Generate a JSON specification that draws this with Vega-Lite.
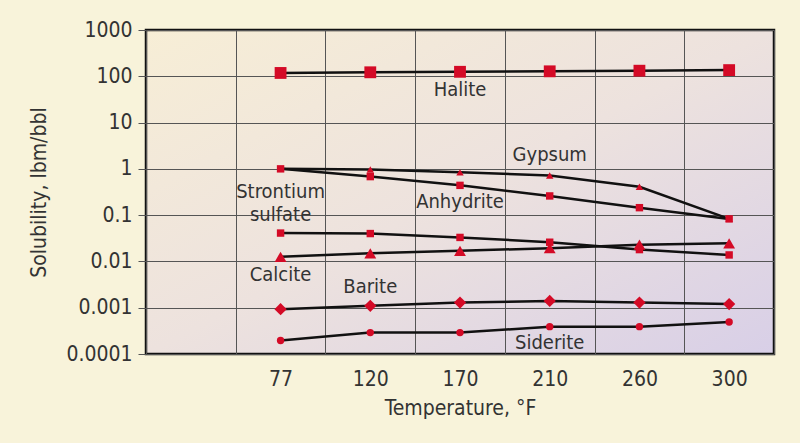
{
  "$schema": "https://vega.github.io/schema/vega-lite/v6.json",
  "width": 628,
  "height": 324,
  "autosize": "none",
  "padding": {"left": 146, "top": 30, "right": 26, "bottom": 89},
  "background": "#f8f3da",
  "view": {
    "fill": {"gradient": "linear", "x1": 0, "y1": 0, "x2": 1, "y2": 1,
      "stops": [{"offset": 0, "color": "#f7eed6"}, {"offset": 0.5, "color": "#ede2de"}, {"offset": 1, "color": "#d8cfe7"}]},
    "stroke": "#111111",
    "strokeWidth": 2.5
  },
  "config": {
    "font": "DejaVu Sans Condensed",
    "axis": {"labelFont": "DejaVu Sans Condensed", "titleFont": "DejaVu Sans Condensed", "labelColor": "#333333", "titleColor": "#333333", "titleFontWeight": "normal", "gridColor": "#555555", "gridOpacity": 1, "gridWidth": 1, "domain": false}
  },
  "datasets": {
    "series": [
      {"mineral": "Halite", "temp": 77, "sol": 118},
      {"mineral": "Halite", "temp": 120, "sol": 122},
      {"mineral": "Halite", "temp": 170, "sol": 125},
      {"mineral": "Halite", "temp": 210, "sol": 128},
      {"mineral": "Halite", "temp": 260, "sol": 132},
      {"mineral": "Halite", "temp": 300, "sol": 136},
      {"mineral": "Gypsum", "temp": 77, "sol": 1.0},
      {"mineral": "Gypsum", "temp": 120, "sol": 0.97},
      {"mineral": "Gypsum", "temp": 170, "sol": 0.84},
      {"mineral": "Gypsum", "temp": 210, "sol": 0.72},
      {"mineral": "Gypsum", "temp": 260, "sol": 0.41},
      {"mineral": "Gypsum", "temp": 300, "sol": 0.083},
      {"mineral": "Anhydrite", "temp": 77, "sol": 1.0},
      {"mineral": "Anhydrite", "temp": 120, "sol": 0.68},
      {"mineral": "Anhydrite", "temp": 170, "sol": 0.44},
      {"mineral": "Anhydrite", "temp": 210, "sol": 0.26},
      {"mineral": "Anhydrite", "temp": 260, "sol": 0.145},
      {"mineral": "Anhydrite", "temp": 300, "sol": 0.083},
      {"mineral": "Strontium sulfate", "temp": 77, "sol": 0.041},
      {"mineral": "Strontium sulfate", "temp": 120, "sol": 0.04},
      {"mineral": "Strontium sulfate", "temp": 170, "sol": 0.033},
      {"mineral": "Strontium sulfate", "temp": 210, "sol": 0.026},
      {"mineral": "Strontium sulfate", "temp": 260, "sol": 0.018},
      {"mineral": "Strontium sulfate", "temp": 300, "sol": 0.0138},
      {"mineral": "Calcite", "temp": 77, "sol": 0.0126},
      {"mineral": "Calcite", "temp": 120, "sol": 0.015},
      {"mineral": "Calcite", "temp": 170, "sol": 0.017},
      {"mineral": "Calcite", "temp": 210, "sol": 0.0193},
      {"mineral": "Calcite", "temp": 260, "sol": 0.023},
      {"mineral": "Calcite", "temp": 300, "sol": 0.0246},
      {"mineral": "Barite", "temp": 77, "sol": 0.00093},
      {"mineral": "Barite", "temp": 120, "sol": 0.0011},
      {"mineral": "Barite", "temp": 170, "sol": 0.00129},
      {"mineral": "Barite", "temp": 210, "sol": 0.0014},
      {"mineral": "Barite", "temp": 260, "sol": 0.00129},
      {"mineral": "Barite", "temp": 300, "sol": 0.0012},
      {"mineral": "Siderite", "temp": 77, "sol": 0.000195},
      {"mineral": "Siderite", "temp": 120, "sol": 0.00029},
      {"mineral": "Siderite", "temp": 170, "sol": 0.00029},
      {"mineral": "Siderite", "temp": 210, "sol": 0.00039},
      {"mineral": "Siderite", "temp": 260, "sol": 0.00039},
      {"mineral": "Siderite", "temp": 300, "sol": 0.00049}
    ],
    "labels": [
      {"text": "Halite", "temp": 170, "sol": 50},
      {"text": "Gypsum", "temp": 210, "sol": 2.0},
      {"text": "Anhydrite", "temp": 170, "sol": 0.193},
      {"text": "Strontium\nsulfate", "temp": 77, "sol": 0.31},
      {"text": "Calcite", "temp": 77, "sol": 0.0051},
      {"text": "Barite", "temp": 120, "sol": 0.0028},
      {"text": "Siderite", "temp": 210, "sol": 0.000174}
    ]
  },
  "encoding": {
    "x": {
      "field": "temp", "type": "ordinal",
      "scale": {"type": "band", "domain": [0, 77, 120, 170, 210, 260, 300], "paddingInner": 0, "paddingOuter": 0},
      "axis": {"title": "Temperature, °F", "labelAngle": 0, "tickBand": "extent", "grid": true, "ticks": false, "labelPadding": 14, "labelFontSize": 21, "titleFontSize": 21, "titlePadding": 8, "labelExpr": "datum.value == 0 ? '' : datum.label"}
    },
    "y": {
      "field": "sol", "type": "quantitative",
      "scale": {"type": "log", "domain": [0.0001, 1000], "nice": false},
      "axis": {"title": "Solubility, lbm/bbl", "values": [0.0001, 0.001, 0.01, 0.1, 1, 10, 100, 1000], "format": "~g", "grid": true, "ticks": true, "tickSize": 8, "tickColor": "#555555", "labelPadding": 6, "labelFontSize": 21, "titleFontSize": 21, "titlePadding": 16}
    }
  },
  "layer": [
    {
      "data": {"name": "series"},
      "mark": {"type": "line", "color": "#111111", "strokeWidth": 2.5},
      "encoding": {"detail": {"field": "mineral"}}
    },
    {
      "data": {"name": "series"},
      "mark": {"type": "point", "filled": true, "opacity": 1, "color": "#d40a26"},
      "encoding": {
        "shape": {"field": "mineral", "type": "nominal", "legend": null,
          "scale": {"domain": ["Halite", "Gypsum", "Anhydrite", "Strontium sulfate", "Calcite", "Barite", "Siderite"],
                    "range": ["square", "triangle-up", "square", "square", "triangle-up", "diamond", "circle"]}},
        "size": {"field": "mineral", "type": "nominal", "legend": null,
          "scale": {"type": "ordinal", "domain": ["Halite", "Gypsum", "Anhydrite", "Strontium sulfate", "Calcite", "Barite", "Siderite"],
                    "range": [140, 55, 55, 55, 140, 150, 55]}}
      }
    },
    {
      "data": {"name": "labels"},
      "mark": {"type": "text", "fontSize": 20, "lineHeight": 23, "lineBreak": "\n", "color": "#333333", "baseline": "middle", "align": "center", "font": "DejaVu Sans Condensed"},
      "encoding": {"text": {"field": "text"}}
    }
  ]
}
